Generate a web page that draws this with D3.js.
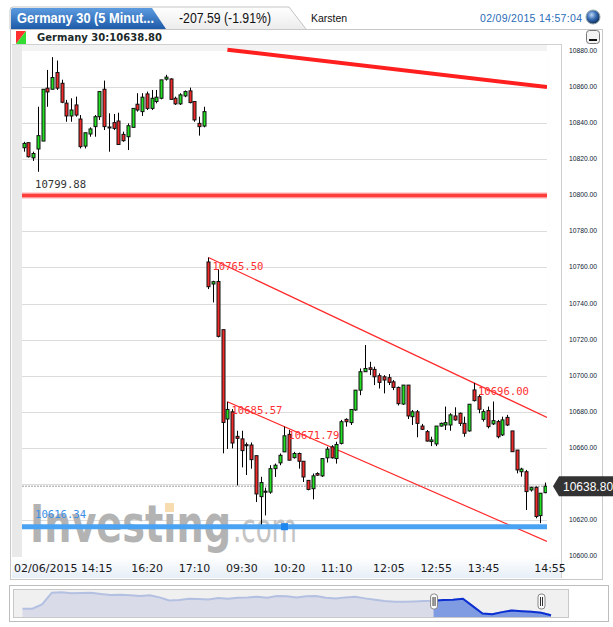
<!DOCTYPE html>
<html><head><meta charset="utf-8">
<script src="https://cdn.jsdelivr.net/npm/d3@7"></script>
<style>body{margin:0;background:#fff}svg{display:block}</style>
</head><body>
<svg id="c" width="613" height="627"></svg>
<script>
// ---------- DATA ----------
const opens=[10826.3,10829.1,10820.7,10825.6,10830,10859.3,10858.7,10868,10862,10851,10843.9,10850,10842.2,10827.2,10833.9,10838,10843.5,10858.7,10837.6,10840.2,10841.1,10833.7,10832.4,10837.6,10850.4,10846.3,10856.1,10848.1,10851.9,10853.7,10864.3,10864.4,10853.7,10850.6,10855,10857.8,10851.9,10839.8,10838.3,
10763,10750.8,10752.2,10725.5,10676,10680,10666.4,10665,10661.8,10661.6,10655.7,10633,10636,10635.5,10648.5,10651.7,10657.8,10667.5,10654.6,10656.9,10652.6,10642,10637.4,10645.8,10644.5,10654.5,10660.6,10654.1,10662.5,10675.8,10674.0,10681.0,10692.0,10702.2,10704.4,10703.5,10700.0,10699.4,10698.9,10696.6,10693.5,10684.3,10694.8,10677.3,10680.0,10672.1,10669.0,10663.5,10662.2,10672.1,10672.7,10672.7,10677.7,10679.2,10673.6,10669.4,10692.1,10688.4,10675.8,10680.7,10673.3,10674.6,10667.2,10676.9,10669.4,10658.8,10646.8,10646.8,10636.7,10638.2,10622.5,10635.2];
const highs=[10829.6,10829.1,10824.1,10849,10858.7,10869.4,10876.5,10874.6,10864,10852.8,10853.7,10854.6,10844.4,10834.6,10837.6,10844.4,10857.4,10863.5,10845.4,10845,10845.7,10835.2,10839.8,10848.1,10856.5,10856.5,10857.4,10858.3,10858.3,10863.9,10866.7,10864.8,10854.6,10856.5,10858,10859.6,10851.9,10843.5,10849,
10765.5,10752.6,10759,10725.5,10685.57,10681.5,10669.5,10669.5,10663,10663,10655.7,10644,10638,10650.4,10651.3,10656.9,10671.79,10670,10657.8,10657.4,10652.6,10642,10645.8,10646.5,10654.1,10660.6,10661.5,10663.4,10675.5,10676.4,10681.3,10692.0,10704.0,10717.0,10707.7,10705.0,10701.3,10700.3,10700.9,10697.6,10694.0,10694.8,10694.8,10681,10681,10673.3,10669.9,10666.2,10672.1,10674,10682.9,10679.2,10682.5,10679.6,10677.3,10684.2,10696.0,10689.4,10681.4,10682.9,10685.7,10675.5,10677.3,10678.3,10669.4,10658.8,10649,10647.8,10638.6,10638.6,10634.9,10640.8];
const lows=[10824.1,10820.9,10819,10813,10830,10849,10858.7,10858.3,10851,10840.7,10840.7,10843.5,10825.9,10825.9,10832.4,10832.4,10841.7,10836.1,10824.1,10836.1,10827.8,10829.6,10825,10837.6,10846.3,10843.9,10847.2,10847.2,10850.9,10853.1,10863.5,10852.8,10850,10850,10854.3,10850.9,10840.7,10833,10837.6,
10748,10740.6,10721.2,10657,10659.4,10659.7,10639.2,10649.2,10645,10648.5,10630,10616.34,10622.6,10634.6,10643.9,10650.4,10657.8,10653,10654.1,10648.5,10641.1,10636.5,10631.5,10644.5,10643.9,10651.9,10654.1,10651.3,10661.9,10671.8,10672.7,10680.6,10689.2,10702.2,10700.3,10694.8,10692.9,10690.2,10694.8,10692.0,10683.5,10683.8,10676,10672.7,10665.9,10670,10663.5,10661,10661,10671.8,10669.9,10669.5,10675.1,10672.1,10666.2,10669,10685.7,10679.2,10674.6,10670.8,10672.7,10665.3,10666.6,10672.1,10657.9,10645.9,10644.1,10625.6,10635.8,10621,10618.3,10634.9];
const closes=[10828.7,10821.3,10823.1,10833,10858.7,10857.2,10865.2,10859.3,10851.5,10843.9,10847.2,10844.4,10826.9,10834.6,10836.7,10843.5,10857.4,10838,10837.8,10837,10828.1,10830.2,10838.5,10848.1,10847.2,10854.3,10848.1,10853.7,10854.3,10863.9,10865.4,10853.1,10850.6,10855.6,10857.4,10851.3,10841.7,10838,10846.3,
10749.3,10752.1,10721.8,10674.1,10681.3,10662.7,10665.3,10658.5,10661.2,10653.5,10634.5,10640.8,10635.5,10648.5,10650.4,10655.9,10666.7,10653.2,10656.9,10652.6,10643.9,10637,10644.5,10644.9,10654.1,10659.3,10654.5,10661.9,10674.5,10674.5,10681.3,10692.0,10702.2,10704.0,10703.5,10699.4,10696.3,10697.6,10696.3,10693.5,10684.5,10694.8,10677.7,10680.0,10673.6,10670.3,10663.8,10664.4,10672.1,10673.6,10674,10678.3,10675.5,10673.6,10668.1,10684.2,10686.2,10681.4,10680.1,10671.8,10675.1,10666.2,10675.5,10672.7,10657.9,10647.8,10648.3,10635.8,10638,10622,10634.9,10638.8];
const xTickIdx=[0,25,35,45,55,65,76,86,96,110];
const xTickLabels=["02/06/2015 14:15","16:20","17:10","09:30","10:20","11:10","12:05","12:55","13:45","14:55"];
const yTicks=[10600,10620,10640,10660,10680,10700,10720,10740,10760,10780,10800,10820,10840,10860,10880];
const redLevel=10799.88, blueLevel=10616.34, lastPrice=10638.80;
const upperTrend=[[39,10765.50],[95,10696.00]];
const lowerTrend=[[43,10685.57],[55,10671.79]];
const thickTrend=[[43,10880.6],[110,10860.0]];
const trendLabels=[[39,10765.50,"10765.50"],[43,10685.57,"10685.57"],[55,10671.79,"10671.79"],[95,10696.00,"10696.00"]];
const navValues=[10688,10688,10740,10880,10884,10872,10876,10880,10864,10852,10856,10848,10840,10848,10824,10788,10792,10808,10804,10800,10816,10808,10820,10824,10832,10820,10840,10836,10824,10836,10840,10820,10812,10824,10832,10812,10796,10780,10772,10772,10776,10780,10784,10792,10796,10808,10720,10632,10624,10648,10668,10660,10652,10640,10612];
const navSelStart=42;

// ---------- LAYOUT ----------
const svg=d3.select("#c");
const P={l:22,r:547,t:45,b:557};
const x=d3.scaleLinear().domain([0,110]).range([23.6,545]);
const y=d3.scaleLinear().domain([10600,10880]).range([556.2,50.8]);
const defs=svg.append("defs");
const g1=defs.append("linearGradient").attr("id","tabBlue").attr("x1",0).attr("y1",0).attr("x2",0).attr("y2",1);
g1.append("stop").attr("offset",0).attr("stop-color","#5d9be0");
g1.append("stop").attr("offset",1).attr("stop-color","#1d5aa8");
const g2=defs.append("linearGradient").attr("id","tabGray").attr("x1",0).attr("y1",0).attr("x2",0).attr("y2",1);
g2.append("stop").attr("offset",0).attr("stop-color","#ffffff");
g2.append("stop").attr("offset",1).attr("stop-color","#ececec");
const g3=defs.append("radialGradient").attr("id","ball").attr("cx","40%").attr("cy","35%").attr("r","65%");
g3.append("stop").attr("offset",0).attr("stop-color","#bcd7f5");
g3.append("stop").attr("offset",0.5).attr("stop-color","#3a6fb5");
g3.append("stop").attr("offset",1).attr("stop-color","#0d2c5c");
const g4=defs.append("linearGradient").attr("id","leftFade").attr("x1",0).attr("y1",0).attr("x2",1).attr("y2",0);
g4.append("stop").attr("offset",0).attr("stop-color","#e9e9e9");
g4.append("stop").attr("offset",1).attr("stop-color","#ffffff");
const g5=defs.append("linearGradient").attr("id","axBand").attr("x1",0).attr("y1",0).attr("x2",0).attr("y2",1);
g5.append("stop").attr("offset",0).attr("stop-color","#ffffff");
g5.append("stop").attr("offset",1).attr("stop-color","#e6eef7");
defs.append("clipPath").attr("id","plotClip").append("rect").attr("x",P.l).attr("y",P.t).attr("width",P.r-P.l).attr("height",P.b-P.t);

// tab bar
svg.append("path").attr("d","M10,29 V10 Q10,7 13,7 H289 L306,29").attr("fill","url(#tabGray)").attr("stroke","#c4c4c4");
svg.append("path").attr("d","M11,29 V10 Q11,8 13,8 H152 L166,29 Z").attr("fill","url(#tabBlue)");
svg.append("text").attr("x",17).attr("y",23).attr("fill","#fff").attr("font-family","Liberation Sans, Arial").attr("font-weight","bold").attr("font-size",14).attr("textLength",137).attr("lengthAdjust","spacingAndGlyphs").text("Germany 30 (5 Minut...");
svg.append("text").attr("x",179).attr("y",23).attr("fill","#111").attr("font-family","Liberation Sans, Arial").attr("font-size",14).attr("textLength",92).attr("lengthAdjust","spacingAndGlyphs").text("-207.59 (-1.91%)");
svg.append("text").attr("x",311).attr("y",22).attr("fill","#111").attr("font-family","Liberation Sans, Arial").attr("font-size",10.5).text("Karsten");
svg.append("text").attr("x",480).attr("y",22).attr("fill","#2a6cb8").attr("font-family","Liberation Sans, Arial").attr("font-size",10.5).attr("textLength",102).text("02/09/2015 14:57:04");
svg.append("circle").attr("cx",593).attr("cy",17).attr("r",7).attr("fill","url(#ball)").attr("stroke","#9aa","stroke-width",0.6);

// main panel
svg.append("rect").attr("x",10.5).attr("y",29.5).attr("width",592).attr("height",550).attr("fill","#fff").attr("stroke","#c8c8c8");
svg.append("path").attr("d","M16,31 H26 L16,44 Z").attr("fill","#ff3030");
svg.append("path").attr("d","M26,31 V44 H16 Z").attr("fill","#33dd33");
svg.append("text").attr("x",37).attr("y",41).attr("fill","#1b2a2a").attr("font-family","DejaVu Sans, Verdana").attr("font-weight","bold").attr("font-size",10).attr("textLength",125).text("Germany 30:10638.80");
svg.append("rect").attr("x",586.5).attr("y",30.5).attr("width",13).attr("height",13).attr("rx",3).attr("fill","#f4f4f4").attr("stroke","#777");
svg.append("rect").attr("x",589).attr("y",39).attr("width",8).attr("height",2).attr("fill","#111");

// plot frame
svg.append("rect").attr("x",12).attr("y",44).attr("width",549).attr("height",513).attr("fill","url(#leftFade)");
svg.append("rect").attr("x",P.l).attr("y",P.t+5).attr("width",P.r-P.l).attr("height",P.b-P.t-5).attr("fill","#fff");
svg.append("rect").attr("x",P.l).attr("y",P.t).attr("width",P.r-P.l).attr("height",6).attr("fill","#f3f3f3");
svg.append("line").attr("x1",12).attr("x2",561).attr("y1",44.5).attr("y2",44.5).attr("stroke","#d0d0d0");
svg.append("line").attr("x1",561.5).attr("x2",561.5).attr("y1",44).attr("y2",578).attr("stroke","#cfcfcf");
svg.append("rect").attr("x",12).attr("y",557).attr("width",549).attr("height",21).attr("fill","url(#axBand)");

// grid
const plot=svg.append("g").attr("clip-path","url(#plotClip)");
plot.selectAll("line.grid").data(yTicks.filter(v=>v>10600&&v<10880)).enter().append("line")
 .attr("x1",P.l).attr("x2",P.r).attr("y1",d=>Math.round(y(d))+0.5).attr("y2",d=>Math.round(y(d))+0.5).attr("stroke","#dcdcdc");

// watermark
const wm=plot.append("g");
wm.append("text").attr("x",30).attr("y",542).attr("font-family","DejaVu Sans, Verdana").attr("font-weight","bold").attr("font-size",52).attr("fill","#b3b3b3").attr("textLength",201).attr("lengthAdjust","spacingAndGlyphs").text("Investing");
wm.append("text").attr("x",233).attr("y",542).attr("font-family","DejaVu Sans, Verdana").attr("font-size",40).attr("fill","#c4c4c4").attr("textLength",64).attr("lengthAdjust","spacingAndGlyphs").text(".com");
wm.append("rect").attr("x",165).attr("y",503).attr("width",9).attr("height",9).attr("fill","#f6dcaf");

// levels
plot.append("line").attr("x1",P.l).attr("x2",P.r).attr("y1",y(redLevel)).attr("y2",y(redLevel)).attr("stroke","#ffb3b3").attr("stroke-width",6);
plot.append("line").attr("x1",P.l).attr("x2",P.r).attr("y1",y(redLevel)).attr("y2",y(redLevel)).attr("stroke","#ff3d3d").attr("stroke-width",3.5);
plot.append("line").attr("x1",P.l).attr("x2",P.r).attr("y1",y(lastPrice)).attr("y2",y(lastPrice)).attr("stroke","#9a9a9a").attr("stroke-dasharray","2,1");

// trend lines
const xEnd=x.invert(P.r);
function ext(p,toIdx){const s=(p[1][1]-p[0][1])/(p[1][0]-p[0][0]);return [p[0],[toIdx,p[0][1]+s*(toIdx-p[0][0])]];}
const line=d3.line().x(d=>x(d[0])).y(d=>y(d[1]));
plot.append("path").attr("d",line(ext(thickTrend,xEnd))).attr("stroke","#ff1f1f").attr("stroke-width",4).attr("fill","none");
plot.append("path").attr("d",line(ext(upperTrend,xEnd))).attr("stroke","#ff2a2a").attr("stroke-width",1.2).attr("fill","none");
plot.append("path").attr("d",line(ext(lowerTrend,xEnd))).attr("stroke","#ff2a2a").attr("stroke-width",1.2).attr("fill","none");

// candles
const idx=d3.range(opens.length);
const cg=plot.append("g");
cg.selectAll("line.w").data(idx).enter().append("line")
 .attr("x1",i=>Math.round(x(i))+0.5).attr("x2",i=>Math.round(x(i))+0.5)
 .attr("y1",i=>y(highs[i])).attr("y2",i=>y(lows[i])).attr("stroke","#000").attr("stroke-width",1);
cg.selectAll("rect.b").data(idx).enter().append("rect")
 .attr("x",i=>Math.round(x(i))-1)
 .attr("y",i=>y(Math.max(opens[i],closes[i])))
 .attr("width",3)
 .attr("height",i=>Math.max(1,Math.abs(y(opens[i])-y(closes[i]))))
 .attr("fill",i=>closes[i]>=opens[i]?"#22e022":"#f02a2a")
 .attr("stroke","#111").attr("stroke-width",1);

// blue level on top
plot.append("line").attr("x1",P.l).attr("x2",P.r).attr("y1",y(blueLevel)).attr("y2",y(blueLevel)).attr("stroke","#4aa2f3").attr("stroke-width",5);
plot.append("rect").attr("x",281).attr("y",y(blueLevel)-3.5).attr("width",7).attr("height",7).attr("fill","#1f86f0");

// labels
const mono="DejaVu Sans Mono, Liberation Mono, monospace";
svg.append("text").attr("x",35).attr("y",y(redLevel)-7).attr("font-family",mono).attr("font-size",10.6).attr("fill","#333").text("10799.88");
svg.append("text").attr("x",35).attr("y",y(blueLevel)-8.5).attr("font-family",mono).attr("font-size",10.6).attr("fill","#3b8fe6").text("10616.34");
svg.selectAll("text.tl").data(trendLabels).enter().append("text")
 .attr("x",d=>x(d[0])+4).attr("y",d=>y(d[1])+12.5).attr("font-family",mono).attr("font-size",10.6).attr("fill","#ff3030").text(d=>d[2]);

// right axis
svg.selectAll("text.ya").data(yTicks.filter(v=>v!==10640)).enter().append("text")
 .attr("x",569).attr("y",d=>y(d)+2).attr("font-family","Liberation Sans, Arial").attr("font-size",8).attr("fill","#0d2233")
 .attr("textLength",28).attr("lengthAdjust","spacingAndGlyphs").text(d=>d.toFixed(2));
// price tag
const ty=y(lastPrice);
svg.append("path").attr("d",`M553,${ty} L559,${ty-10} H613 V${ty+10} H559 Z`).attr("fill","#333");
svg.append("text").attr("x",563).attr("y",ty+4.5).attr("font-family","Liberation Sans, Arial").attr("font-size",12).attr("fill","#fff").text(lastPrice.toFixed(2));

// x axis labels
svg.selectAll("text.xa").data(xTickIdx).enter().append("text")
 .attr("x",(d,k)=>k===0?14:x(d)+5).attr("y",572).attr("text-anchor",(d,k)=>k===0?"start":"middle")
 .attr("font-family","DejaVu Sans, Verdana").attr("font-size",11).attr("fill","#1a1a1a").text((d,k)=>xTickLabels[k]);

// navigator
svg.append("rect").attr("x",9.5).attr("y",585.5).attr("width",599).attr("height",36).attr("fill","#fff").attr("stroke","#bdbdbd");
const N={l:14,r:568,t:590,b:617};
svg.append("rect").attr("x",N.l-0.5).attr("y",N.t-0.5).attr("width",N.r-N.l+1).attr("height",N.b-N.t+1).attr("fill","#f0f0f0").attr("stroke","#c8c8c8");
const nx=d3.scaleLinear().domain([0,navValues.length-1]).range([22.5,551]);
const ny=d3.scaleLinear().domain([10590,10912]).range([N.b,N.t]);
const area=d3.area().x((d,i)=>nx(i)).y0(N.b).y1(d=>ny(d));
const navLine=d3.line().x((d,i)=>nx(i)).y(d=>ny(d));
svg.append("path").attr("d",area(navValues)).attr("fill","#d9dce8");
svg.append("path").attr("d",navLine(navValues)).attr("fill","none").attr("stroke","#b4c0e2").attr("stroke-width",2);
const sel=navValues.slice(navSelStart);
const areaS=d3.area().x((d,i)=>nx(i+navSelStart)).y0(N.b).y1(d=>ny(d));
const lineS=d3.line().x((d,i)=>nx(i+navSelStart)).y(d=>ny(d));
svg.append("path").attr("d",areaS(sel)).attr("fill","#7f9be2");
svg.append("path").attr("d",lineS(sel)).attr("fill","none").attr("stroke","#0b2fd0").attr("stroke-width",2);
[nx(navSelStart),nx(navValues.length-1)-10].forEach(hx=>{
 svg.append("rect").attr("x",hx-3).attr("y",594).attr("width",7).attr("height",15).attr("rx",3).attr("fill","#fafafa").attr("stroke","#888");
 svg.append("line").attr("x1",hx-0.5).attr("x2",hx-0.5).attr("y1",597).attr("y2",606).attr("stroke","#333");
 svg.append("line").attr("x1",hx+1.5).attr("x2",hx+1.5).attr("y1",597).attr("y2",606).attr("stroke","#333");
});
</script>
</body></html>
